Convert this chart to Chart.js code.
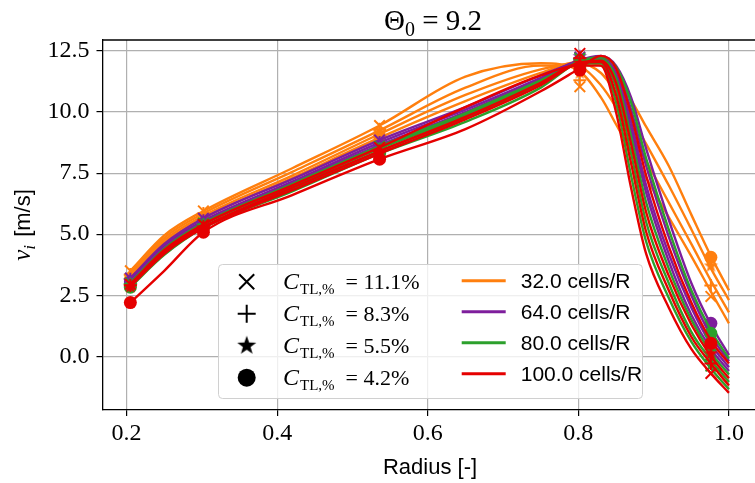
<!DOCTYPE html>
<html>
<head>
<meta charset="utf-8">
<script src="https://cdn.jsdelivr.net/npm/chart.js@4.4.0/dist/chart.umd.min.js"></script>
<style>
  html, body { margin: 0; padding: 0; background: #fff; }
</style>
</head>
<body>
<canvas id="chart" width="755" height="483"></canvas>
<script>
// radial positions of the sampled curves and of the markers
const lineX = [0.205, 0.25, 0.302, 0.42, 0.536, 0.65, 0.75, 0.80, 0.83, 0.85, 0.87, 0.89, 0.92, 0.95, 0.976, 1.0]
const markX = [0.205, 0.302, 0.536, 0.802, 0.976]

const xTicks = [0.2, 0.4, 0.6, 0.8, 1.0]
const yTicks = [0, 2.5, 5, 7.5, 10, 12.5]

const ctlLabels = ['11.1%', '8.3%', '5.5%', '4.2%']
const cellLabels = ['32.0 cells/R', '64.0 cells/R', '80.0 cells/R', '100.0 cells/R']
const cellColors = ['#ff7f0e', '#7e1e9c', '#2ca02c', '#e50000']

// rows: C_TL 11.1, 8.3, 5.5, 4.2
const orangeLines = [
  [3.5, 4.95, 5.95, 7.7, 9.45, 11.45, 12.0, 11.7, 10.6, 9.5, 8.4, 7.3, 5.7, 4.1, 2.65, 1.35],
  [3.4, 4.85, 5.85, 7.55, 9.25, 11.0, 11.9, 11.85, 11.1, 10.2, 9.1, 8.0, 6.3, 4.6, 3.1, 1.8],
  [3.3, 4.75, 5.75, 7.4, 9.1, 10.7, 11.75, 12.0, 11.6, 10.8, 9.8, 8.7, 7.0, 5.2, 3.6, 2.3],
  [3.2, 4.65, 5.65, 7.3, 8.95, 10.45, 11.6, 12.05, 11.9, 11.4, 10.5, 9.4, 7.8, 5.8, 4.1, 2.7]
]
const purpleLines = [
  [3.2, 4.6, 5.65, 7.25, 8.85, 10.2, 11.5, 12.05, 12.2, 11.5, 9.3, 6.7, 3.9, 1.7, 0.3, -0.6],
  [3.15, 4.55, 5.55, 7.15, 8.75, 10.1, 11.4, 12.1, 12.2, 11.6, 9.6, 7.0, 4.2, 2.0, 0.5, -0.45],
  [3.1, 4.5, 5.5, 7.1, 8.65, 10.0, 11.35, 12.1, 12.25, 11.8, 10.1, 7.8, 4.9, 2.5, 0.85, -0.2],
  [3.05, 4.45, 5.45, 7.0, 8.55, 9.9, 11.25, 12.1, 12.3, 11.9, 10.6, 8.5, 5.6, 3.0, 1.3, 0.05]
]
const greenLines = [
  [3.0, 4.4, 5.45, 7.05, 8.6, 9.95, 11.3, 11.95, 12.0, 10.4, 7.4, 4.7, 2.4, 0.6, -0.5, -1.35],
  [2.95, 4.35, 5.4, 6.95, 8.5, 9.85, 11.25, 12.0, 12.1, 11.0, 8.3, 5.5, 3.0, 1.0, -0.15, -1.05],
  [2.9, 4.25, 5.3, 6.85, 8.4, 9.75, 11.15, 12.05, 12.15, 11.4, 9.0, 6.3, 3.6, 1.5, 0.15, -0.75],
  [2.83, 4.15, 5.25, 6.75, 8.3, 9.6, 11.0, 12.05, 12.25, 11.85, 10.4, 8.1, 5.2, 2.7, 1.05, -0.1]
]
const redLines = [
  [2.95, 4.35, 5.4, 7.0, 8.55, 10.2, 11.5, 11.9, 11.9, 10.0, 6.9, 4.2, 2.0, 0.3, -0.7, -1.5],
  [2.9, 4.3, 5.3, 6.9, 8.4, 9.8, 11.2, 12.0, 12.05, 10.7, 7.9, 5.1, 2.7, 0.8, -0.3, -1.2],
  [2.85, 4.2, 5.25, 6.8, 8.3, 9.7, 11.1, 12.0, 12.1, 11.2, 8.7, 5.9, 3.3, 1.3, 0.0, -0.9],
  [2.2, 3.5, 5.08, 6.6, 8.07, 9.3, 10.85, 11.75, 12.3, 11.8, 9.9, 7.4, 4.5, 2.2, 0.65, -0.3]
]

const orangeMarks = [
  [3.5, 5.95, 9.45, 11.04, 2.45],
  [3.35, 5.85, 9.3, 11.3, 2.9],
  [3.25, 5.75, 9.15, 11.6, 3.7],
  [3.15, 5.65, 9.0, 11.85, 4.05]
]
const purpleMarks = [
  [3.2, 5.65, 8.85, 12.25, 0.2],
  [3.15, 5.55, 8.75, 12.2, 0.5],
  [3.1, 5.5, 8.65, 12.27, 0.8],
  [3.05, 5.45, 8.55, 12.1, 1.35]
]
const greenMarks = [
  [3.0, 5.45, 8.6, 12.2, -0.4],
  [2.95, 5.4, 8.5, 12.15, -0.15],
  [2.9, 5.3, 8.4, 12.1, 0.2],
  [2.83, 5.25, 8.3, 11.95, 0.94]
]
const redMarks = [
  [2.95, 5.4, 8.55, 12.4, -0.7],
  [2.9, 5.3, 8.4, 12.2, -0.3],
  [2.85, 5.25, 8.3, 12.0, 0.1],
  [2.2, 5.08, 8.07, 11.72, 0.53]
]

const SERIF = '"Liberation Serif", "DejaVu Serif", serif'
const SANS = '"Liberation Sans", "DejaVu Sans", sans-serif'

function starImage(color, r) {
  const s = Math.ceil(r * 2 + 2)
  const c = document.createElement('canvas')
  c.width = s
  c.height = s
  const g = c.getContext('2d')
  g.fillStyle = color
  g.beginPath()
  for (let i = 0; i < 10; i++) {
    const rad = i % 2 === 0 ? r : r * 0.4
    const a = -Math.PI / 2 + i * Math.PI / 5
    const px = s / 2 + rad * Math.cos(a)
    const py = s / 2 + rad * Math.sin(a)
    if (i === 0) g.moveTo(px, py)
    else g.lineTo(px, py)
  }
  g.closePath()
  g.fill()
  return c
}

function markerStyle(kind, color) {
  if (kind === 0) return { pointStyle: 'crossRot', pointRadius: 7.5, pointBorderWidth: 2 }
  if (kind === 1) return { pointStyle: 'cross', pointRadius: 6.5, pointBorderWidth: 2 }
  if (kind === 2) return { pointStyle: starImage(color, 7.5), pointRadius: 6, pointBorderWidth: 0 }
  return { pointStyle: 'circle', pointRadius: 6.5, pointBorderWidth: 0 }
}

const groups = [
  [orangeLines, orangeMarks],
  [purpleLines, purpleMarks],
  [greenLines, greenMarks],
  [redLines, redMarks]
]

const datasets = []
let k = 0
groups.forEach(([lines, marks], g) => {
  const color = cellColors[g]
  lines.forEach((vals, m) => {
    datasets.push({
      data: lineX.map((x, i) => ({ x: x, y: vals[i] })),
      borderColor: color,
      borderWidth: 2.4,
      pointRadius: 0,
      cubicInterpolationMode: 'monotone',
      fill: false,
      order: 1000 - k++
    })
    datasets.push(Object.assign({
      data: markX.map((x, i) => ({ x: x, y: marks[m][i] })),
      showLine: false,
      borderColor: color,
      backgroundColor: color,
      pointBackgroundColor: color,
      pointBorderColor: color,
      order: 1000 - k++
    }, markerStyle(m, color)))
  })
})

function drawRuns(ctx, x, y, runs) {
  let cx = x
  runs.forEach(r => {
    ctx.font = r.f
    ctx.fillText(r.t, cx, y + (r.dy || 0))
    cx += ctx.measureText(r.t).width + (r.gap || 0)
  })
  return cx - x
}

function runsWidth(ctx, runs) {
  let w = 0
  runs.forEach(r => {
    ctx.font = r.f
    w += ctx.measureText(r.t).width + (r.gap || 0)
  })
  return w
}

const decor = {
  id: 'decor',
  afterDraw(chart) {
    const ctx = chart.ctx
    const a = chart.chartArea
    ctx.save()

    // top spine
    ctx.strokeStyle = '#000'
    ctx.lineWidth = 1.3
    ctx.beginPath()
    ctx.moveTo(a.left, a.top)
    ctx.lineTo(a.right, a.top)
    ctx.stroke()

    ctx.fillStyle = '#000'
    ctx.textBaseline = 'alphabetic'
    ctx.textAlign = 'left'

    // title
    const title = [
      { t: '\u0398', f: '29px ' + SERIF },
      { t: '0', f: '20px ' + SERIF, dy: 6 },
      { t: ' = 9.2', f: '29px ' + SERIF }
    ]
    drawRuns(ctx, 433 - runsWidth(ctx, title) / 2, 30, title)

    // x label
    const xl = [{ t: 'Radius [-]', f: '22px ' + SANS }]
    drawRuns(ctx, 430 - runsWidth(ctx, xl) / 2, 474, xl)

    // y label
    const yl = [
      { t: 'v', f: 'italic 25px ' + SERIF },
      { t: 'i', f: 'italic 17px ' + SERIF, dy: 5, gap: 2 },
      { t: ' [m/s]', f: '22px ' + SANS }
    ]
    ctx.save()
    ctx.translate(30, 225)
    ctx.rotate(-Math.PI / 2)
    drawRuns(ctx, -runsWidth(ctx, yl) / 2, 0, yl)
    ctx.restore()

    // legend box
    const lx = 218.5, ly = 264.5, lw = 424, lh = 134
    ctx.beginPath()
    ctx.roundRect(lx, ly, lw, lh, 4)
    ctx.fillStyle = 'rgba(255,255,255,0.8)'
    ctx.fill()
    ctx.strokeStyle = '#d0d0d0'
    ctx.lineWidth = 1
    ctx.stroke()

    ctx.fillStyle = '#000'
    ctx.strokeStyle = '#000'
    for (let i = 0; i < 4; i++) {
      const cy = 281.7 + i * 32
      const mx = 246.7
      ctx.lineWidth = 2
      if (i === 0) {
        ctx.beginPath()
        ctx.moveTo(mx - 7.5, cy - 7.5); ctx.lineTo(mx + 7.5, cy + 7.5)
        ctx.moveTo(mx - 7.5, cy + 7.5); ctx.lineTo(mx + 7.5, cy - 7.5)
        ctx.stroke()
      } else if (i === 1) {
        ctx.beginPath()
        ctx.moveTo(mx - 9, cy); ctx.lineTo(mx + 9, cy)
        ctx.moveTo(mx, cy - 9); ctx.lineTo(mx, cy + 9)
        ctx.stroke()
      } else if (i === 2) {
        const img = starImage('#000', 10)
        ctx.drawImage(img, mx - img.width / 2, cy - img.height / 2)
      } else {
        ctx.beginPath()
        ctx.arc(mx, cy, 9, 0, Math.PI * 2)
        ctx.fill()
      }
      drawRuns(ctx, 283, cy + 7, [
        { t: 'C', f: 'italic 24px ' + SERIF, gap: 1 },
        { t: 'TL,%', f: '15px ' + SERIF, dy: 5, gap: 11 },
        { t: '= ' + ctlLabels[i], f: '22px ' + SERIF }
      ])

      const ry = 280.7 + i * 31
      ctx.strokeStyle = cellColors[i]
      ctx.lineWidth = 3
      ctx.beginPath()
      ctx.moveTo(461.7, ry)
      ctx.lineTo(505.7, ry)
      ctx.stroke()
      ctx.strokeStyle = '#000'
      drawRuns(ctx, 520.7, ry + 7.5, [{ t: cellLabels[i], f: '21px ' + SANS }])
    }

    ctx.restore()
  }
}

const config = {
  type: 'line',
  data: { datasets: datasets },
  options: {
    responsive: false,
    animation: false,
    events: [],
    layout: { autoPadding: false, padding: { top: 40, left: 0, right: 0, bottom: 0 } },
    plugins: {
      legend: { display: false },
      tooltip: { enabled: false }
    },
    scales: {
      x: {
        type: 'linear',
        min: 0.168,
        max: 1.0346,
        afterFit: scale => {
          scale.height = 73
          scale.paddingLeft = 0
          scale.paddingRight = 0
        },
        afterBuildTicks: scale => { scale.ticks = xTicks.map(v => ({ value: v })) },
        grid: { color: '#b0b0b0', lineWidth: 1.2, tickColor: '#000', tickLength: 6, drawTicks: true },
        border: { color: '#000', width: 1.3 },
        ticks: {
          color: '#000',
          font: { family: SERIF, size: 24 },
          padding: 3,
          maxRotation: 0,
          autoSkip: false,
          callback: v => v.toFixed(1)
        }
      },
      y: {
        type: 'linear',
        min: -2.2,
        max: 12.95,
        afterFit: scale => {
          scale.width = 102.5
          scale.paddingTop = 0
          scale.paddingBottom = 0
        },
        afterBuildTicks: scale => { scale.ticks = yTicks.map(v => ({ value: v })) },
        grid: { color: '#b0b0b0', lineWidth: 1.2, tickColor: '#000', tickLength: 6, drawTicks: true },
        border: { color: '#000', width: 1.3 },
        ticks: {
          color: '#000',
          font: { family: SERIF, size: 24 },
          padding: 7,
          autoSkip: false,
          callback: v => v.toFixed(1)
        }
      }
    }
  },
  plugins: [decor]
}

new Chart(document.getElementById('chart').getContext('2d'), config)
</script>
</body>
</html>
